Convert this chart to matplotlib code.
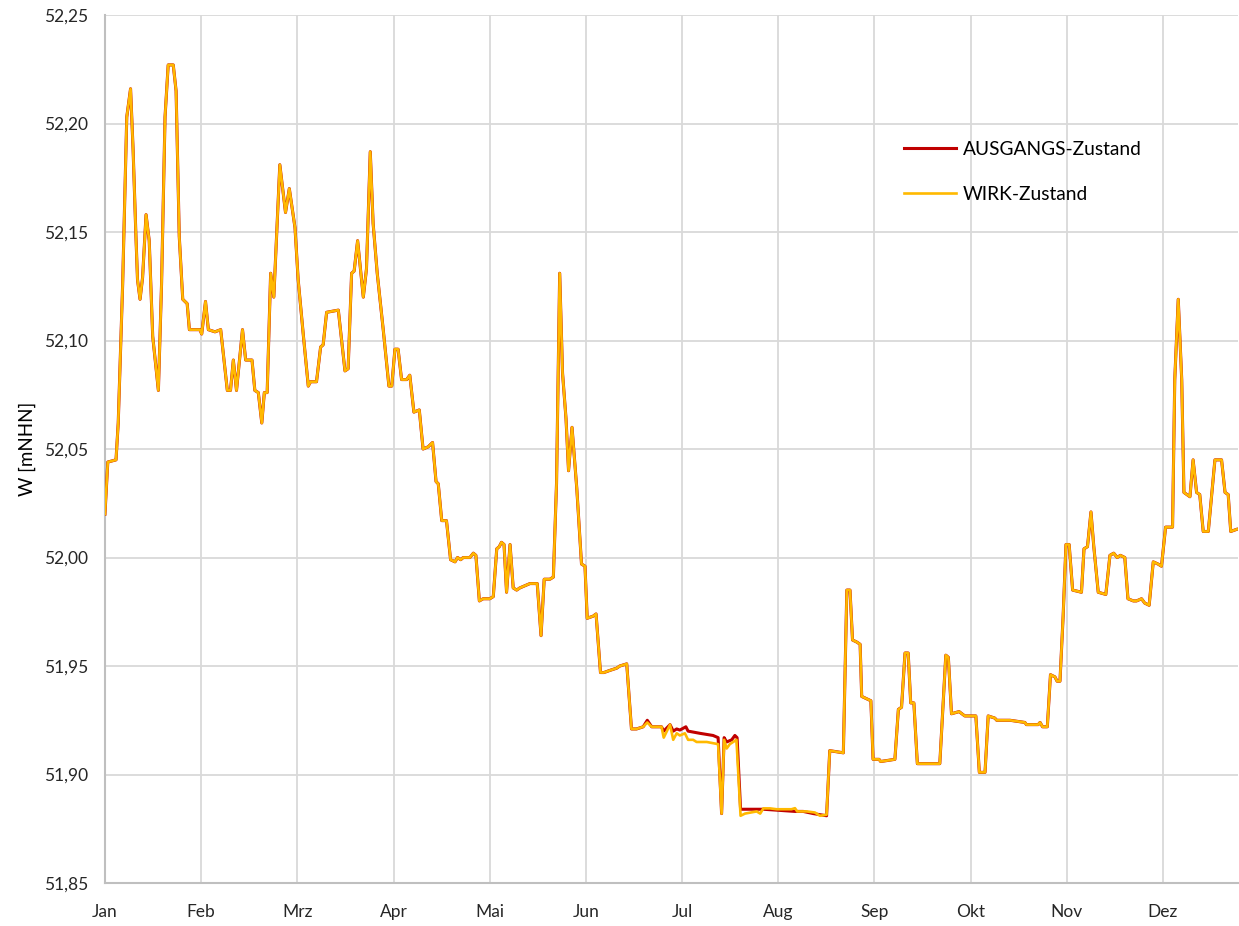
import numpy as np
import matplotlib
matplotlib.use("Agg")
import matplotlib.pyplot as plt
from matplotlib.ticker import FuncFormatter

plt.rcParams['font.family'] = ['Lato', 'DejaVu Sans']

# day of year (tick spacing = 365/12) and water level W [mNHN]
tag_a = [0.0, 0.9, 3.5, 4.2, 5.6, 6.9, 8.1, 8.9, 9.8, 10.3, 11.1, 11.9, 13.0, 14.0, 15.1,
         16.9, 17.9, 19.0, 20.0, 21.6, 22.5, 23.5, 24.6, 26.0, 26.7, 30.0, 30.6, 31.8, 32.7,
         34.8, 36.6, 38.7, 39.7, 40.6, 41.6, 43.5, 44.5, 46.5, 47.4, 48.5, 49.6, 50.4, 51.3,
         52.4, 53.4, 55.3, 57.1, 58.3, 60.1, 61.1, 62.7, 64.3, 65.0, 66.9, 68.2, 69.0, 70.1,
         73.8, 75.9, 76.9, 78.0, 78.8, 79.9, 81.7, 82.7, 83.9, 84.8, 86.1, 88.0, 89.8, 90.7,
         91.7, 92.7, 93.8, 95.4, 96.4, 97.7, 99.4, 100.6, 102.2, 103.6, 104.7, 105.4, 106.5,
         108.0, 109.3, 110.7, 111.5, 112.5, 113.3, 115.4, 116.5, 117.3, 118.4, 119.6, 121.7,
         122.8, 123.9, 124.7, 125.4, 126.2, 127.0, 128.1, 129.1, 130.2, 131.2, 134.4, 136.7,
         137.9, 138.9, 140.7, 141.8, 142.8, 143.8, 144.7, 145.8, 146.6, 147.7, 149.2, 150.7,
         151.8, 152.5, 154.4, 155.3, 156.7, 157.8, 159.7, 161.8, 162.8, 165.0, 166.5, 168.1]
w_a = [52.020, 52.044, 52.045, 52.062, 52.126, 52.203, 52.216, 52.188, 52.148, 52.128, 52.119,
       52.129, 52.158, 52.146, 52.102, 52.077, 52.126, 52.203, 52.227, 52.227, 52.215, 52.148,
       52.119, 52.117, 52.105, 52.105, 52.103, 52.118, 52.105, 52.104, 52.105, 52.077, 52.077,
       52.091, 52.077, 52.105, 52.091, 52.091, 52.077, 52.076, 52.062, 52.076, 52.076, 52.131,
       52.120, 52.181, 52.159, 52.170, 52.152, 52.128, 52.103, 52.079, 52.081, 52.081, 52.097,
       52.098, 52.113, 52.114, 52.086, 52.087, 52.131, 52.132, 52.146, 52.120, 52.133, 52.187,
       52.154, 52.131, 52.105, 52.079, 52.079, 52.096, 52.096, 52.082, 52.082, 52.084, 52.067,
       52.068, 52.050, 52.051, 52.053, 52.035, 52.034, 52.017, 52.017, 51.999, 51.998, 52.000,
       51.999, 52.000, 52.000, 52.002, 52.001, 51.980, 51.981, 51.981, 51.982, 52.004, 52.005,
       52.007, 52.006, 51.984, 52.006, 51.986, 51.985, 51.986, 51.988, 51.988, 51.964, 51.990,
       51.990, 51.991, 52.034, 52.131, 52.085, 52.064, 52.040, 52.060, 52.032, 51.997, 51.996,
       51.972, 51.973, 51.974, 51.947, 51.947, 51.948, 51.949, 51.950, 51.951, 51.921, 51.921]

# summer section where the two states differ
tag_aus = [170.2, 171.5, 172.9, 176.0, 176.7, 178.7, 179.7, 180.8, 181.8, 183.7, 184.4, 188.1,
           192.3, 193.9, 195.0, 195.8, 196.6, 198.2, 199.2, 199.9, 201.0, 208.2, 218.2, 220.8,
           224.0, 228.2]
w_aus = [51.922, 51.925, 51.922, 51.922, 51.920, 51.923, 51.920, 51.921, 51.9205, 51.922,
         51.920, 51.919, 51.918, 51.917, 51.882, 51.917, 51.915, 51.916, 51.918, 51.917,
         51.884, 51.884, 51.883, 51.883, 51.882, 51.881]
tag_wirk = [170.2, 171.5, 172.9, 176.0, 176.7, 178.7, 179.7, 180.8, 181.8, 183.4, 184.4, 186.0,
            187.1, 190.3, 193.9, 195.0, 195.8, 196.6, 197.6, 199.7, 201.0, 202.4, 206.1, 207.2,
            208.2, 210.3, 212.4, 217.1, 218.2, 218.9, 221.9, 224.5, 226.1, 228.2]
w_wirk = [51.922, 51.924, 51.922, 51.922, 51.917, 51.923, 51.916, 51.919, 51.918, 51.919,
          51.916, 51.916, 51.915, 51.915, 51.914, 51.882, 51.916, 51.912, 51.914, 51.916,
          51.881, 51.882, 51.883, 51.882, 51.8844, 51.8844, 51.884, 51.884, 51.8845, 51.883,
          51.883, 51.8825, 51.881, 51.8815]

tag_b = [229.2, 233.5, 234.6, 235.6, 236.4, 237.8, 238.8, 239.3, 242.2, 242.9, 244.8, 245.3,
         249.8, 250.9, 251.9, 253.0, 254.0, 254.8, 255.8, 256.9, 264.0, 265.9, 266.7, 267.7,
         270.1, 271.9, 275.4, 276.5, 278.3, 279.3, 281.4, 282.0, 286.2, 290.9, 291.4, 295.1,
         295.7, 296.5, 298.0, 299.0, 300.4, 301.1, 302.0, 303.0, 303.9, 304.9, 306.0, 308.8,
         309.6, 310.7, 311.8, 312.7, 314.1, 316.5, 317.8, 319.0, 320.1, 321.1, 322.5, 323.5,
         325.2, 326.2, 327.8, 328.8, 330.2, 331.5, 333.0, 334.1, 335.4, 337.6, 338.3, 339.4,
         340.5, 341.2, 343.1, 344.1, 345.2, 346.2, 347.3, 348.9, 351.0, 353.1, 354.2, 355.2,
         356.0, 357.9]
w_b = [51.911, 51.910, 51.985, 51.985, 51.962, 51.961, 51.960, 51.936, 51.934, 51.907, 51.907,
       51.906, 51.907, 51.930, 51.931, 51.956, 51.956, 51.933, 51.933, 51.905, 51.905, 51.955,
       51.954, 51.928, 51.929, 51.927, 51.927, 51.901, 51.901, 51.927, 51.926, 51.925, 51.925,
       51.924, 51.923, 51.923, 51.924, 51.922, 51.922, 51.946, 51.945, 51.943, 51.943, 51.973,
       52.006, 52.006, 51.985, 51.984, 52.004, 52.005, 52.021, 52.005, 51.984, 51.983, 52.001,
       52.002, 52.000, 52.001, 52.000, 51.981, 51.980, 51.980, 51.981, 51.979, 51.978, 51.998,
       51.997, 51.996, 52.014, 52.014, 52.082, 52.119, 52.082, 52.030, 52.028, 52.045, 52.030,
       52.029, 52.012, 52.012, 52.045, 52.045, 52.030, 52.029, 52.012, 52.013]

monate = ['Jan', 'Feb', 'Mrz', 'Apr', 'Mai', 'Jun', 'Jul', 'Aug', 'Sep', 'Okt', 'Nov', 'Dez']

x_aus = tag_a + tag_aus + tag_b
y_aus = w_a + w_aus + w_b
x_wirk = tag_a + tag_wirk + tag_b
y_wirk = w_a + w_wirk + w_b

fig = plt.figure(figsize=(12.39, 9.26), dpi=100)
ax = fig.add_axes([0.0847, 0.0464, 0.9145, 0.9374])

ax.plot(x_aus, y_aus, color='#C00000', lw=2.2, label='AUSGANGS-Zustand', zorder=3)
ax.plot(x_wirk, y_wirk, color='#FFB900', lw=1.9, label='WIRK-Zustand', zorder=4)

ax.set_xlim(0, 358.3)
ax.set_ylim(51.85, 52.25)
ax.set_xticks(np.arange(12) * 365 / 12)
ax.set_xticklabels(monate)
ax.set_yticks(np.arange(51.85, 52.2501, 0.05))
ax.yaxis.set_major_formatter(FuncFormatter(lambda v, p: f"{v:.2f}".replace('.', ',')))

ax.grid(True, color='#D9D9D9', lw=1.3)
ax.set_axisbelow(True)
for s in ['top', 'right']:
    ax.spines[s].set_visible(False)
for s in ['left', 'bottom']:
    ax.spines[s].set_color('#BFBFBF')
    ax.spines[s].set_linewidth(1.5)
ax.tick_params(length=0, labelsize=12.5, colors='#262626')
ax.tick_params(axis='x', pad=15)
ax.tick_params(axis='y', pad=12)
ax.set_ylabel('W [mNHN]', fontsize=13.5, color='#000000', labelpad=6)

ax.legend(loc='upper left', bbox_to_anchor=(0.69, 0.875), frameon=False, fontsize=13.8,
          handlelength=2.7, labelspacing=1.45, handletextpad=0.35)

fig.savefig('out.png', dpi=100)
